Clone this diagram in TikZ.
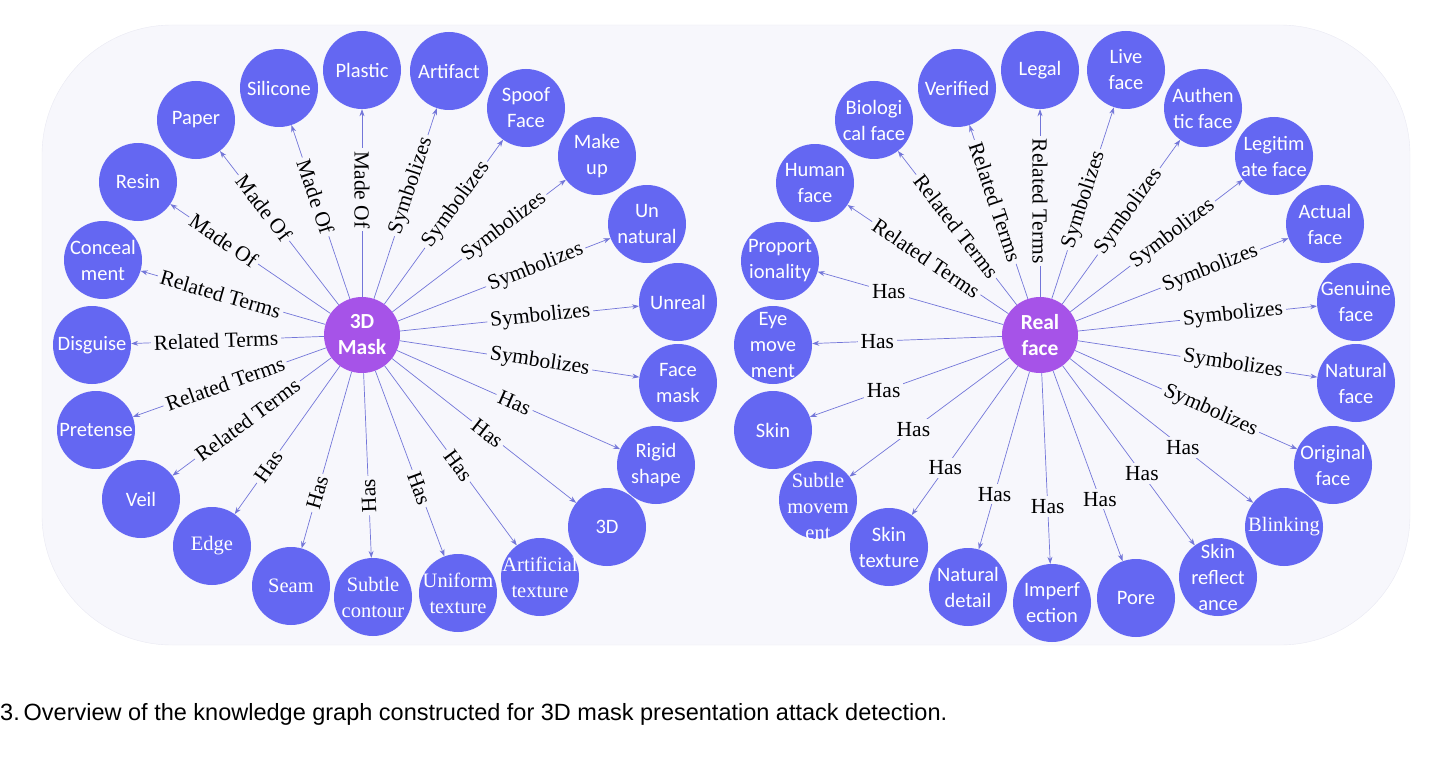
\documentclass[tikz,border=0pt]{standalone}
\usepackage{fontspec}
\setmainfont{Liberation Serif}
\newfontfamily\carl{Carlito}
\newfontfamily\arl{Liberation Sans}
\usetikzlibrary{arrows.meta}
\definecolor{bgc}{HTML}{F7F7FC}
\definecolor{bdc}{HTML}{E9E9F3}
\definecolor{nodec}{HTML}{6467F2}
\definecolor{ctrc}{HTML}{A653E8}
\definecolor{linec}{HTML}{7376D9}
\newcommand\nd[5]{\node[circ,label={[#5]center:#4}] (#1) at (#2,#3) {};}
\newcommand\ed[4]{\draw[con] (#1) -- node[lab,sloped,pos=#3]{#4} (#2);}
\newcommand\eh[4]{\draw[con] (#1) -- node[lab,pos=#3]{#4} (#2);}
\newcommand\er[5]{\draw[con] (#1) -- node[lab,pos=#3,rotate=#4]{#5} (#2);}
\begin{document}
\begin{tikzpicture}[x=1pt,y=-1pt,
  circ/.style={circle,fill=nodec,minimum size=78pt,inner sep=0pt},
  ctr/.style={circle,fill=ctrc,minimum size=76pt,inner sep=0pt,text=white,
    font=\carl\bfseries\fontsize{21.5}{26}\selectfont,align=center},
  ts/.style={text=white,font=\carl\fontsize{20.5}{26}\selectfont,align=center,inner sep=0pt},
  tr/.style={text=white,font=\fontsize{20.5}{26}\selectfont,align=center,inner sep=0pt},
  con/.style={draw=linec,line width=0.7pt,-{Stealth[length=7pt,width=5pt]}},
  lab/.style={font=\fontsize{21.5}{21.5}\selectfont,fill=bgc,inner sep=3pt,text=black}]
\useasboundingbox (0,0) rectangle (1453,757);
\fill[bgc,draw=bdc,rounded corners=130pt] (42,25) rectangle (1410,645);

% ---- left cluster ----
\node[ctr] (mask) at (362,335) {3D\\Mask};
\nd{plastic}{362}{70}{Plastic}{ts}
\nd{artifact}{449}{71}{Artifact}{ts}
\nd{silicone}{279}{88}{Silicone}{ts}
\nd{spoof}{526}{108}{Spoof\\Face}{ts}
\nd{paper}{196}{120}{Paper}{ts}
\nd{makeup}{597}{156}{Make\\up}{ts}
\nd{resin}{138}{182}{Resin}{ts}
\nd{unnatural}{647}{224}{Un\\natural}{ts}
\nd{conceal}{103}{260}{Conceal\\ment}{ts}
\nd{unreal}{678}{302}{Unreal}{ts}
\nd{disguise}{92}{345}{Disguise}{ts}
\nd{facemask}{678}{383}{Face\\mask}{ts}
\nd{pretense}{96}{430}{Pretense}{ts}
\nd{rigid}{656}{465}{Rigid\\shape}{ts}
\nd{veil}{141}{499}{Veil}{ts}
\nd{threed}{607}{527}{3D}{ts}
\nd{edgen}{212}{546}{Edge}{tr}
\nd{arttex}{540}{577}{Artificial\\texture}{tr}
\nd{seam}{291}{586}{Seam}{tr}
\nd{subtle}{373}{597}{Subtle\\contour}{tr}
\nd{uniform}{458}{593}{Uniform\\texture}{tr}

\ed{mask}{resin}{0.667}{Made Of}
\ed{mask}{paper}{0.63}{Made Of}
\ed{mask}{silicone}{0.587}{Made Of}
\er{mask}{plastic}{0.57}{-90}{Made Of}
\ed{mask}{artifact}{0.593}{Symbolizes}
\ed{mask}{spoof}{0.605}{Symbolizes}
\ed{mask}{makeup}{0.644}{Symbolizes}
\ed{mask}{unnatural}{0.649}{Symbolizes}
\ed{mask}{unreal}{0.587}{Symbolizes}
\ed{mask}{facemask}{0.584}{Symbolizes}
\ed{mask}{rigid}{0.527}{Has}
\ed{mask}{threed}{0.518}{Has}
\ed{mask}{arttex}{0.556}{Has}
\ed{mask}{uniform}{0.634}{Has}
\er{mask}{subtle}{0.664}{92.4}{Has}
\ed{mask}{seam}{0.686}{Has}
\ed{mask}{edgen}{0.68}{Has}
\ed{mask}{veil}{0.528}{Related Terms}
\ed{mask}{pretense}{0.523}{Related Terms}
\ed{mask}{disguise}{0.56}{Related Terms}
\ed{mask}{conceal}{0.567}{Related Terms}

% ---- right cluster ----
\node[ctr] (real) at (1040,335) {Real\\face};
\nd{legal}{1040}{70}{Legal}{ts}
\nd{verified}{957}{88}{Verified}{ts}
\nd{bio}{874}{120}{Biologi\\cal face}{ts}
\nd{human}{815}{183}{Human\\face}{ts}
\nd{prop}{780}{261}{Proport\\ionality}{ts}
\nd{eye}{773}{345}{Eye\\move\\ment}{ts}
\nd{skin}{773}{430}{Skin}{ts}
\nd{submov}{818}{500}{Subtle\\movem\\ent}{tr,yshift=-6pt}
\nd{skintex}{889}{547}{Skin\\texture}{ts}
\nd{natdet}{968}{587}{Natural\\detail}{ts}
\nd{imperf}{1052}{603}{Imperf\\ection}{ts}
\nd{pore}{1136}{598}{Pore}{ts}
\nd{skinref}{1218}{577}{Skin\\reflect\\ance}{ts}
\nd{blink}{1284}{527}{Blinking}{tr}
\nd{orig}{1333}{465}{Original\\face}{ts}
\nd{natface}{1356}{383}{Natural\\face}{ts}
\nd{genuine}{1356}{302}{Genuine\\face}{ts}
\nd{actual}{1325}{224}{Actual\\face}{ts}
\nd{legit}{1274}{156}{Legitim\\ate face}{ts}
\nd{authentic}{1203}{108}{Authen\\tic face}{ts}
\nd{live}{1126}{70}{Live\\face}{ts}

\ed{real}{human}{0.51}{Related Terms}
\ed{real}{bio}{0.51}{Related Terms}
\ed{real}{verified}{0.558}{Related Terms}
\er{real}{legal}{0.51}{-90}{Related Terms}
\ed{real}{live}{0.517}{Symbolizes}
\ed{real}{authentic}{0.564}{Symbolizes}
\ed{real}{legit}{0.593}{Symbolizes}
\ed{real}{actual}{0.633}{Symbolizes}
\ed{real}{genuine}{0.648}{Symbolizes}
\ed{real}{natface}{0.648}{Symbolizes}
\ed{real}{orig}{0.61}{Symbolizes}
\eh{real}{blink}{0.616}{Has}
\eh{real}{skinref}{0.6}{Has}
\eh{real}{pore}{0.674}{Has}
\eh{real}{imperf}{0.70}{Has}
\eh{real}{natdet}{0.69}{Has}
\eh{real}{skintex}{0.684}{Has}
\eh{real}{submov}{0.60}{Has}
\eh{real}{skin}{0.62}{Has}
\eh{real}{eye}{0.657}{Has}
\eh{real}{prop}{0.617}{Has}

\node[anchor=base west,inner sep=0pt,font=\arl\fontsize{23.5}{24}\selectfont] (cap) at (0,720)
  {3.\,Overview of the knowledge graph constructed for 3D mask presentation attack detection.};
\end{tikzpicture}
\end{document}
